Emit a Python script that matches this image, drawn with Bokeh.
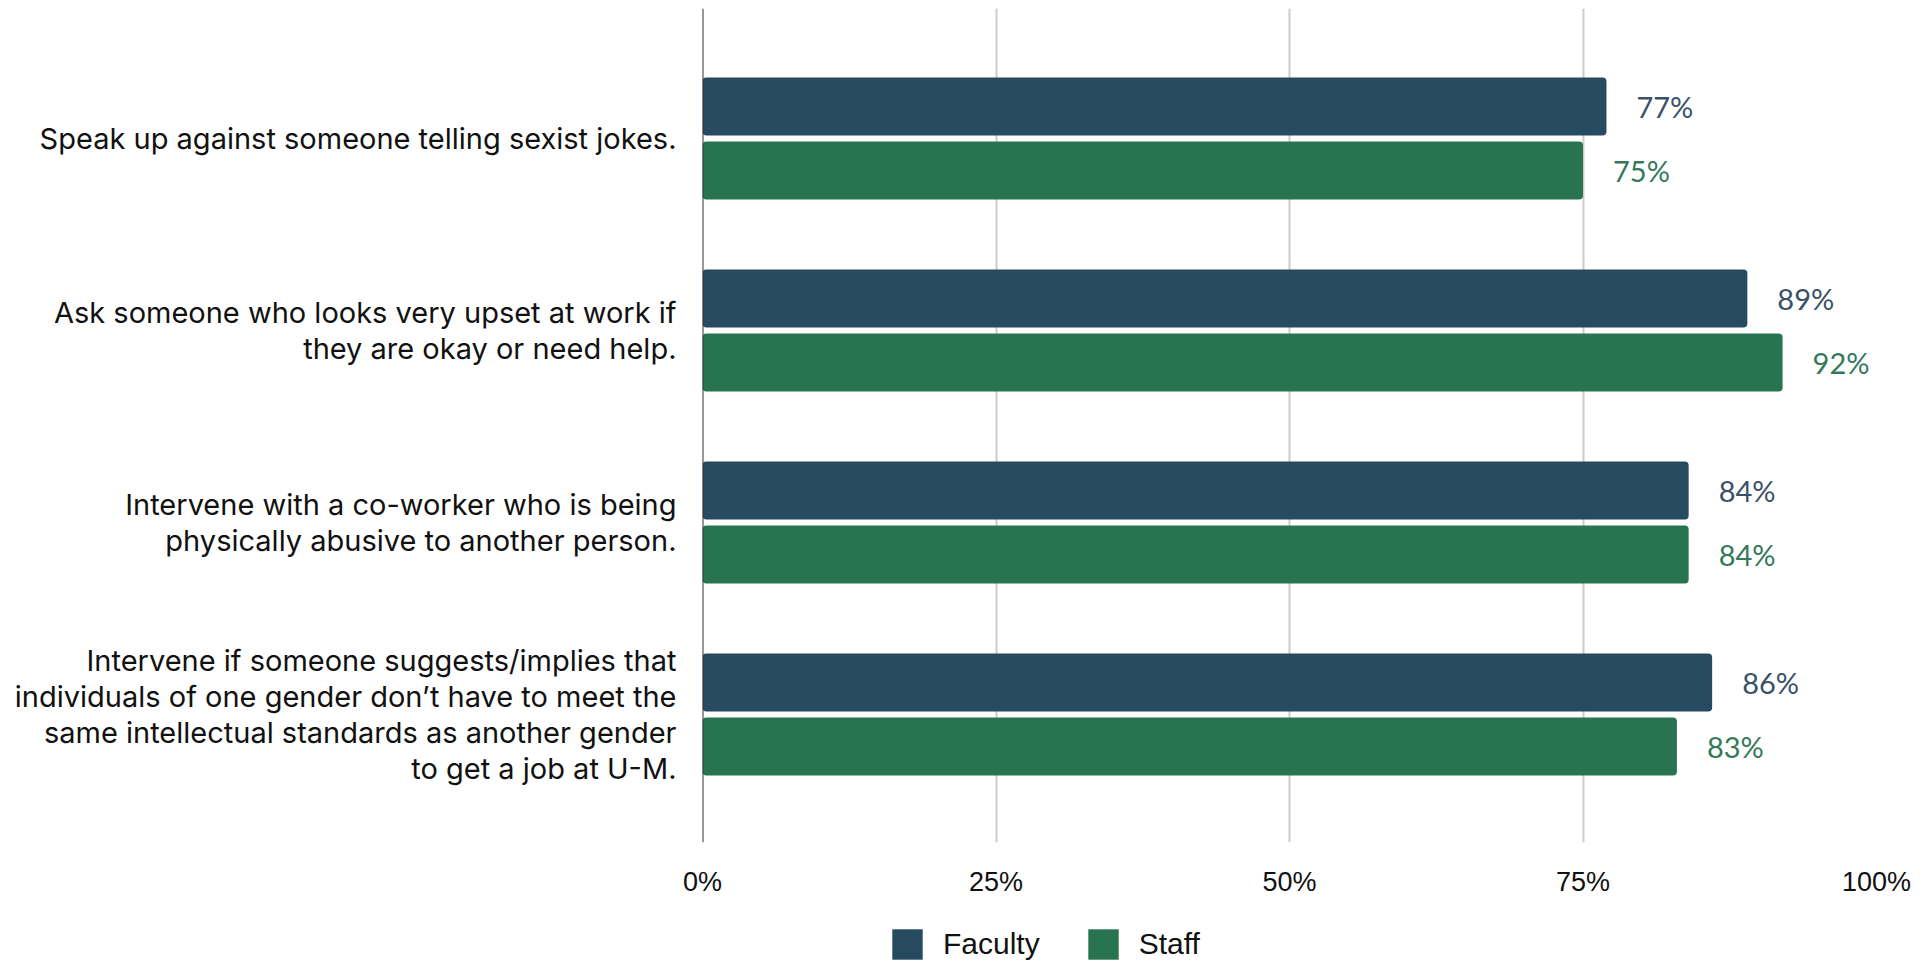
from bokeh.plotting import figure
from bokeh.models import (ColumnDataSource, Range1d, FixedTicker, Legend, LegendItem)
from bokeh.layouts import column
from bokeh.core.properties import value
from bokeh.embed import file_html
from bokeh.resources import INLINE

categories = [
    "Speak up against someone telling sexist jokes.",
    "Ask someone who looks very upset at work if\nthey are okay or need help.",
    "Intervene with a co-worker who is being\nphysically abusive to another person.",
    "Intervene if someone suggests/implies that\nindividuals of one gender don\u2019t have to meet the\nsame intellectual standards as another gender\nto get a job at U-M.",
]
faculty = [77, 89, 84, 86]
staff = [75, 92, 84, 83]
x_ticks = [0, 25, 50, 75, 100]
x_tick_labels = ["0%", "25%", "50%", "75%", "100%"]
series_names = ["Faculty", "Staff"]

FAC_COLOR = "#264a60"
STAFF_COLOR = "#287451"
FAC_TEXT = "#3a5168"
STAFF_TEXT = "#33795a"

pos = list(range(len(categories)))
off = 0.1667
bar_h = 0.302

src_f = ColumnDataSource(dict(y=[p - off for p in pos], x=faculty,
                              lab=[f"{v}%" for v in faculty]))
src_s = ColumnDataSource(dict(y=[p + off for p in pos], x=staff,
                              lab=[f"{v}%" for v in staff]))

p = figure(width=1918, height=900, output_backend="svg", toolbar_location=None,
           x_range=Range1d(0, 100), y_range=Range1d(3.667, -0.677),
           min_border_left=702, min_border_right=42, min_border_top=8,
           min_border_bottom=58)
p.outline_line_color = None
p.background_fill_color = "white"
p.border_fill_color = "white"

p.hbar(y="y", right="x", left=0, height=bar_h, source=src_f,
       fill_color=FAC_COLOR, line_color=None, border_radius=4)
p.hbar(y="y", right="x", left=0, height=bar_h, source=src_s,
       fill_color=STAFF_COLOR, line_color=None, border_radius=4)

p.text(x="x", y="y", text="lab", source=src_f, x_offset=30,
       text_baseline="middle", text_align="left", text_color=FAC_TEXT,
       text_font=value("Lato"), text_font_size="29px")
p.text(x="x", y="y", text="lab", source=src_s, x_offset=30,
       text_baseline="middle", text_align="left", text_color=STAFF_TEXT,
       text_font=value("Lato"), text_font_size="29px")

# zero line
p.segment(x0=[0], x1=[0], y0=[3.667], y1=[-0.677], line_color="#333333", line_width=2)

# x axis
p.xaxis.ticker = FixedTicker(ticks=x_ticks)
p.xaxis.major_label_overrides = {t: l for t, l in zip(x_ticks, x_tick_labels)}
p.xaxis.axis_line_color = None
p.xaxis.major_tick_line_color = None
p.xaxis.minor_tick_line_color = None
p.xaxis.major_label_standoff = 18
p.xaxis.major_label_text_font = "Liberation Sans"
p.xaxis.major_label_text_font_size = "27px"
p.xaxis.major_label_text_color = "#111111"

p.xgrid.ticker = FixedTicker(ticks=[25, 50, 75, 100])
p.xgrid.grid_line_color = "#cccccc"
p.xgrid.grid_line_width = 2
p.ygrid.grid_line_color = None

# y axis
p.yaxis.ticker = FixedTicker(ticks=pos)
p.yaxis.major_label_overrides = {i: c for i, c in enumerate(categories)}
p.yaxis.axis_line_color = None
p.yaxis.major_tick_line_color = None
p.yaxis.minor_tick_line_color = None
p.yaxis.major_label_standoff = 20
p.yaxis.major_label_text_font = "Inter"
p.yaxis.major_label_text_font_size = "29px"
p.yaxis.major_label_text_line_height = 1.03
p.yaxis.major_label_text_color = "#111111"

# legend strip below the chart (frame is aligned with the chart's frame)
lg = figure(width=1918, height=63, output_backend="svg", toolbar_location=None,
            x_range=Range1d(0, 1), y_range=Range1d(0, 1),
            min_border_left=0, min_border_right=0, min_border_top=0, min_border_bottom=0)
lg.outline_line_color = None
lg.axis.visible = False
lg.grid.visible = False
lf = lg.hbar(y=[-10], right=[1], left=0, height=0.5, fill_color=FAC_COLOR,
             line_color=None, border_radius=4)
ls = lg.hbar(y=[-10], right=[1], left=0, height=0.5, fill_color=STAFF_COLOR,
             line_color=None, border_radius=4)
legend = Legend(items=[LegendItem(label=series_names[0], renderers=[lf]),
                       LegendItem(label=series_names[1], renderers=[ls])],
                orientation="horizontal", location=(186, 0),
                glyph_width=38, glyph_height=38, label_standoff=17, spacing=44,
                label_text_font="Liberation Sans", label_text_font_size="30px",
                label_text_color="#111111", border_line_color=None,
                background_fill_alpha=0, padding=0, margin=0)
lg.add_layout(legend, "center")

open("out.html", "w").write(file_html(column(p, lg), INLINE))
